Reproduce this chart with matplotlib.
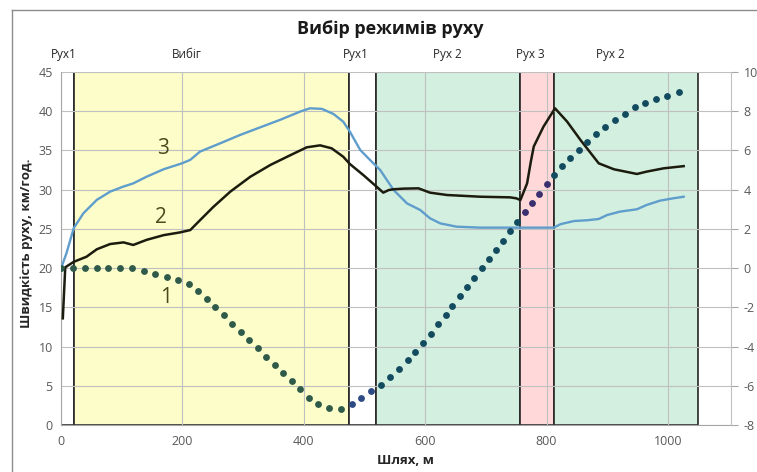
import matplotlib
matplotlib.use("Agg")
import matplotlib.pyplot as plt
from matplotlib.patches import Rectangle
from matplotlib.lines import Line2D

plt.rcParams['font.family'] = ['Open Sans', 'Noto Sans', 'DejaVu Sans']
plt.rcParams['axes.unicode_minus'] = False

# ділянки руху (межі по шляху, м)
zone_names = ['Рух1', 'Вибіг', 'Рух1', 'Рух 2', 'Рух 3', 'Рух 2']
zone_start = [0, 21, 475, 519, 757, 812]
zone_end = [21, 475, 519, 757, 812, 1049]
zone_colors = ['white', '#fdfdc9', 'white', '#d3efdf', '#ffd9d9', '#d3efdf']
zone_label_x = [5, 208, 486, 636, 773, 905]

# 1 - крапки (права вісь)
s1_x = [0, 19, 40, 59, 78, 98, 117, 136, 155, 174, 193, 211, 226, 241, 254, 269, 282,
        296, 310, 324, 338, 352, 366, 380, 394, 408, 424, 442, 461, 479, 495, 511,
        527, 542, 557, 571, 584, 597, 609, 621, 634, 645, 657, 669, 681, 693, 705,
        717, 728, 740, 752, 764, 776, 788, 800, 812, 825, 839, 853, 867, 881, 897,
        913, 929, 945, 963, 981, 999, 1019]
s1_y = [0, 0, 0, 0, 0, 0, 0, -0.16, -0.32, -0.44, -0.6, -0.8, -1.16, -1.6, -2.0, -2.4,
        -2.84, -3.24, -3.68, -4.08, -4.52, -4.92, -5.36, -5.76, -6.18, -6.6, -6.92,
        -7.12, -7.16, -6.92, -6.6, -6.28, -5.94, -5.56, -5.14, -4.68, -4.26, -3.82,
        -3.34, -2.87, -2.4, -1.92, -1.44, -0.96, -0.48, 0.0, 0.48, 0.92, 1.4, 1.88,
        2.36, 2.84, 3.32, 3.8, 4.28, 4.76, 5.2, 5.6, 6.04, 6.44, 6.84, 7.2, 7.56,
        7.88, 8.2, 8.44, 8.6, 8.8, 8.98]
dot_colors = ['#2f5a49', '#2f5a49', '#2d4a84', '#124b5f', '#3a2f6e', '#124b5f']

# 2 - чорна лінія
s2_x = [3, 7, 21, 42, 59, 81, 103, 119, 141, 169, 196, 213, 229, 251, 279, 312, 345,
        378, 405, 427, 446, 465, 476, 498, 520, 531, 540, 548, 564, 589, 608, 636,
        691, 740, 750, 757, 768, 774, 779, 795, 814, 834, 856, 886, 911, 949, 965,
        993, 1026]
s2_y = [13.6, 20.1, 20.8, 21.45, 22.4, 23.07, 23.28, 22.95, 23.6, 24.2, 24.55, 24.85,
        26.1, 27.8, 29.75, 31.65, 33.15, 34.4, 35.4, 35.65, 35.27, 34.2, 33.27, 31.87,
        30.38, 29.62, 29.95, 30.05, 30.13, 30.17, 29.62, 29.32, 29.1, 29.02, 28.9,
        28.68, 30.8, 33.5, 35.5, 38.03, 40.37, 38.67, 36.33, 33.36, 32.6, 32.0, 32.3,
        32.72, 33.0]

# 3 - блакитна лінія
s3_x = [0, 9, 21, 37, 59, 81, 103, 119, 141, 169, 199, 213, 229, 262, 295, 328, 361,
        394, 410, 430, 449, 465, 476, 493, 509, 526, 548, 570, 592, 608, 625, 652,
        691, 757, 812, 823, 845, 867, 886, 900, 921, 949, 965, 987, 1009, 1026]
s3_y = [19.97, 21.9, 25.1, 27.0, 28.7, 29.75, 30.4, 30.8, 31.65, 32.6, 33.35, 33.8,
        34.85, 35.9, 36.97, 37.94, 38.9, 39.95, 40.37, 40.3, 39.65, 38.67, 37.4, 35.06,
        33.8, 32.5, 29.96, 28.26, 27.4, 26.35, 25.7, 25.28, 25.16, 25.16, 25.16, 25.6,
        26.0, 26.1, 26.26, 26.77, 27.2, 27.5, 28.05, 28.6, 28.9, 29.1]

fig = plt.figure(figsize=(7.57, 4.72), dpi=100)
ax = fig.add_axes([61 / 757, 47 / 472, 670 / 757, 353 / 472])
ax2 = ax.twinx()

ax.set_xlim(0, 1104)
ax.set_ylim(0, 45)
ax2.set_ylim(-8, 10)

grid_c = '#c0c0c0'
tick_c = '#595959'

# прямокутники ділянок
for i in range(len(zone_names)):
    ax.add_patch(Rectangle((zone_start[i], 0), zone_end[i] - zone_start[i], 45,
                           facecolor=zone_colors[i], edgecolor='#262626', lw=1.2,
                           zorder=0.3))
    ax.text(zone_label_x[i], 46.4, zone_names[i], ha='center', va='bottom',
            fontsize=8.5, color='#262626')

ax.set_axisbelow(True)
ax.set_xticks(range(0, 1001, 200))
ax.set_yticks(range(0, 46, 5))
ax.grid(True, color=grid_c, lw=0.8)
ax.tick_params(length=0, colors=tick_c, labelsize=9)
ax.tick_params(axis='x', pad=7)
ax.tick_params(axis='y', pad=6)
for s in ['top', 'right']:
    ax.spines[s].set_visible(False)
ax.spines['left'].set_color('#a6a6a6')
ax.spines['bottom'].set_color('#a6a6a6')

ax2.set_yticks(range(-8, 11, 2))
ax2.tick_params(direction='out', length=5, color='#a6a6a6', colors=tick_c,
                labelsize=9, pad=4)
ax2.tick_params(axis='y', color='#a6a6a6')
for s in ['top', 'left', 'bottom']:
    ax2.spines[s].set_visible(False)
ax2.spines['right'].set_color('#c0c0c0')

# лінії
ax.plot(s3_x, s3_y, color='#5f9dcc', lw=1.7, zorder=3)
ax.plot(s2_x, s2_y, color='#1b1b0e', lw=1.8, zorder=3)

# крапки 1
for i in range(len(zone_names)):
    xs = [x for x in s1_x if zone_start[i] <= x < zone_end[i]]
    ys = [y for x, y in zip(s1_x, s1_y) if zone_start[i] <= x < zone_end[i]]
    ax2.plot(xs, ys, ls='', marker='o', ms=3.9, color=dot_colors[i], zorder=4)

ax.text(168, 35.3, '3', fontsize=15, color='#4a4a1c', ha='center', va='center')
ax.text(165, 26.5, '2', fontsize=15, color='#4a4a1c', ha='center', va='center')
ax.text(173, 16.3, '1', fontsize=15, color='#4a4a1c', ha='center', va='center')

fig.text(390 / 757, 1 - 29 / 472, 'Вибір режимів руху', ha='center', va='center',
         fontsize=13, fontweight='bold', color='#1a1a1a')
fig.text(405 / 757, 1 - 461 / 472, 'Шлях, м', ha='center', va='center',
         fontsize=9.5, fontweight='bold', color='#262626')
fig.text(27 / 757, 1 - 243 / 472, 'Швидкість руху, км/год.', ha='center', va='center',
         rotation=90, fontsize=9.5, fontweight='bold', color='#262626')

# рамка області діаграми
fig.add_artist(Line2D([12 / 757, 1], [1 - 10 / 472, 1 - 10 / 472], color='#8c8c8c', lw=1))
fig.add_artist(Line2D([12 / 757, 12 / 757], [0, 1 - 10 / 472], color='#8c8c8c', lw=1))

fig.savefig('out.png', dpi=100)
